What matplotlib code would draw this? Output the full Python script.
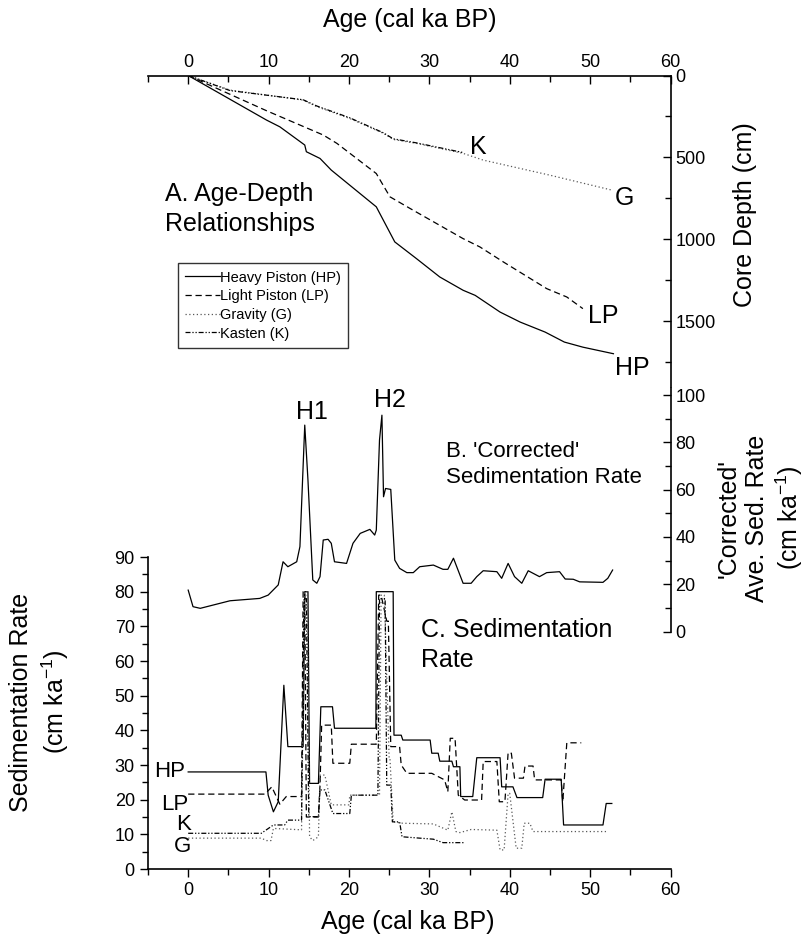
import matplotlib
matplotlib.use("Agg")
import matplotlib.pyplot as plt
from matplotlib.ticker import MultipleLocator

plt.rcParams['font.family'] = ['Liberation Sans', 'DejaVu Sans']
plt.rcParams['mathtext.fontset'] = 'custom'
plt.rcParams['mathtext.rm'] = 'Liberation Sans'
plt.rcParams['mathtext.it'] = 'Liberation Sans:italic'

# --- A. age-depth relationships (age in cal ka BP, depth in cm)
hp_age = [0, 9.75, 11.4, 14.5, 14.7, 16.4, 17.8, 23.4, 25.7, 28.4, 31.3, 34.2,
          35.7, 38.8, 41.3, 44.4, 46.8, 49.1, 52.9]
hp_depth = [0, 272, 313, 424, 465, 506, 577, 801, 1015, 1117, 1229, 1310,
            1341, 1443, 1504, 1565, 1626, 1657, 1697]
lp_age = [0, 9.75, 16.8, 18.5, 23.4, 24.25, 25.1, 27.6, 34.2, 36.3, 39.2,
          44.6, 47.1, 49.1]
lp_depth = [0, 215, 363, 414, 598, 669, 740, 811, 995, 1046, 1137, 1300,
            1351, 1422]
g_age = [0, 5.2, 14.3, 16.0, 20.1, 24.3, 25.5, 28.4, 34.2, 36.7, 45.0, 52.7]
g_depth = [0, 89, 150, 190, 262, 353, 390, 414, 475, 516, 608, 699]
k_age = [0, 5.2, 14.3, 16.0, 20.1, 24.3, 25.5, 28.4, 34.2]
k_depth = [0, 92, 148, 186, 258, 350, 386, 411, 470]

# --- B. 'corrected' average sedimentation rate (cm/ka)
cor_age = [0, 0.6, 1.5, 5.2, 8.9, 9.95, 11.2, 11.8, 12.4, 13.5, 13.9, 14.5,
           14.9, 15.5, 16.0, 16.4, 16.8, 17.4, 17.8, 18.2, 19.7, 20.5, 21.4,
           22.6, 23.2, 23.4, 23.8, 24.1, 24.3, 24.55, 25.2, 25.7, 26.3, 27.2,
           28.0, 28.8, 30.5, 31.7, 32.3, 33.0, 34.2, 35.2, 35.9, 36.7, 38.4,
           39.0, 39.8, 40.6, 41.5, 42.3, 43.7, 44.6, 46.2, 46.9, 47.9, 48.7,
           51.6, 52.2, 52.8]
cor_rate = [17.5, 10.5, 9.8, 13.0, 14.0, 15.4, 19.7, 29.5, 27.4, 29.5, 35.9,
            87.3, 64.0, 21.8, 20.4, 23.2, 38.7, 39.0, 37.3, 29.5, 28.8, 37.3,
            41.5, 43.2, 40.8, 42.9, 81.0, 91.5, 57.0, 60.5, 60.1, 30.2, 26.7,
            24.9, 24.9, 27.4, 28.1, 26.3, 26.3, 31.0, 20.4, 20.4, 23.2, 25.7,
            25.3, 22.5, 28.8, 23.2, 20.4, 25.7, 23.2, 24.9, 25.3, 22.2, 22.1,
            21.0, 20.8, 22.5, 26.0]

# --- C. sedimentation rate per core (cm/ka), clipped at 80
hp_sr_age = [0, 9.67, 9.95, 10.6, 11.2, 11.9, 12.4, 14.3, 14.5, 14.9, 15.1,
             16.2, 16.5, 17.95, 18.2, 23.35, 23.4, 25.5, 25.6, 26.5, 26.7,
             30.1, 30.3, 31.1, 31.3, 32.8, 33.0, 33.8, 33.9, 35.4, 35.9, 38.8,
             39.0, 40.4, 40.9, 44.1, 44.4, 46.4, 46.7, 51.6, 52.0, 52.7]
hp_sr = [28, 28, 21.3, 16.5, 19.4, 53, 35.3, 35.3, 80, 80, 24.7, 24.7, 46.8,
         46.8, 40.6, 40.6, 80, 80, 38.6, 38.6, 37.2, 37.2, 33.4, 33.4, 31.1,
         31.1, 29.5, 29.5, 20.9, 20.9, 32.1, 32.1, 23.7, 23.7, 20.6, 20.6,
         25.9, 25.9, 12.7, 12.7, 18.9, 18.9]
lp_sr_age = [0, 9.55, 10.4, 11.4, 12.2, 14.1, 14.3, 14.5, 14.7, 16.2, 16.4,
             16.6, 17.8, 18.0, 20.1, 20.3, 23.4, 23.7, 24.0, 24.7, 24.9, 25.2,
             26.3, 26.5, 27.2, 30.3, 31.9, 32.3, 32.6, 33.2, 33.6, 34.4, 36.5,
             36.7, 38.4, 38.7, 39.4, 39.8, 40.2, 40.6, 41.7, 41.9, 42.9, 43.1,
             46.4, 46.6, 47.1, 48.9]
lp_sr = [21.6, 21.6, 23.7, 18.7, 20.9, 20.9, 80, 80, 15, 15, 24.2, 41.5, 41.5,
         30.5, 30.5, 36, 36, 79, 79, 71.5, 71.5, 35.3, 35.3, 30, 27.6, 27.6,
         25.7, 22.3, 37.7, 37.7, 21.3, 19.9, 19.9, 31, 31, 19.4, 19.4, 33.6,
         33.4, 26.2, 26.2, 29.7, 29.7, 25.7, 25.7, 19.4, 36.4, 36.4]
k_sr_age = [0, 9.1, 10.6, 12.0, 12.4, 14.1, 14.4, 14.7, 15.0, 16.2, 16.4,
            17.0, 18.0, 20.1, 20.3, 23.6, 23.8, 24.5, 24.7, 25.2, 25.4, 26.3,
            26.6, 28.8, 30.5, 31.7, 34.4]
k_sr = [10.3, 10.3, 12.7, 12.7, 14.1, 14.1, 78, 78, 15.1, 15.1, 22.8, 22.8,
        16, 16, 21.3, 21.3, 78, 78, 24.2, 24.2, 13.6, 13.6, 9.3, 8.9, 8.6,
        7.6, 7.6]
g_sr_age = [0, 9.1, 9.75, 10.3, 10.6, 14.1, 14.5, 14.8, 15.1, 15.5, 16.2,
            16.4, 17.0, 17.8, 20.0, 20.1, 23.8, 24.0, 24.4, 25.0, 25.1, 25.5,
            26.7, 30.5, 32.3, 32.8, 33.3, 33.8, 35.2, 38.4, 38.8, 39.3, 39.8,
            40.0, 40.8, 41.5, 41.8, 42.5, 42.9, 52.0]
g_sr = [8.9, 8.9, 8.2, 8.2, 11.7, 11.3, 80, 80, 9.3, 8.2, 9.3, 27.1, 27.1,
        18.5, 18.5, 21.3, 21.3, 79, 79, 31.9, 31.9, 13.6, 13.2, 13.0, 11.2,
        16.5, 10.8, 10.5, 11.4, 11.2, 5.5, 5.5, 21.8, 21.8, 6.0, 6.0, 13.2,
        13.2, 10.8, 10.8]

W, H = 811, 939
fig = plt.figure(figsize=(W / 100, H / 100), dpi=100)


def px(x0, y0, x1, y1):
    # axes rectangle from pixel corners (top-left origin)
    return [x0 / W, 1 - y1 / H, (x1 - x0) / W, (y1 - y0) / H]


ls_hp = dict(color='black', lw=0.9, ls='-')
ls_lp = dict(color='black', lw=0.9, ls=(0, (5, 3)))
ls_g = dict(color='0.35', lw=0.9, ls=(0, (1, 2)))
ls_k = dict(color='black', lw=0.9, ls=(0, (4, 1.5, 1, 1.5, 1, 1.5)))

TICK = 13
LAB = 18


def tick_setup(a, direction):
    a.tick_params(which='both', direction=direction, labelsize=TICK, width=1)
    a.tick_params(which='major', length=6)
    a.tick_params(which='minor', length=4)


# ---------- A. age-depth
ax_a = fig.add_axes(px(148, 75.5, 670.5, 387))
ax_a.patch.set_alpha(0)
ax_a.plot(hp_age, hp_depth, label='Heavy Piston (HP)', **ls_hp)
ax_a.plot(lp_age, lp_depth, label='Light Piston (LP)', **ls_lp)
ax_a.plot(g_age, g_depth, label='Gravity (G)', **ls_g)
ax_a.plot(k_age, k_depth, label='Kasten (K)', **ls_k)
ax_a.set_xlim(-5, 60)
ax_a.set_ylim(1900, 0)
for s in ('left', 'bottom'):
    ax_a.spines[s].set_visible(False)
ax_a.xaxis.tick_top()
ax_a.yaxis.tick_right()
ax_a.xaxis.set_major_locator(MultipleLocator(10))
ax_a.xaxis.set_minor_locator(MultipleLocator(5))
ax_a.yaxis.set_major_locator(MultipleLocator(500))
ax_a.yaxis.set_minor_locator(MultipleLocator(250))
tick_setup(ax_a, 'in')
ax_a.set_xticks([0, 10, 20, 30, 40, 50, 60])
ax_a.text(-2.9, 816, 'A. Age-Depth\nRelationships', fontsize=18,
          ha='left', va='center', linespacing=1.3)
ax_a.text(36.1, 435, 'K', fontsize=18, ha='center', va='center')
ax_a.text(54.3, 748, 'G', fontsize=18, ha='center', va='center')
ax_a.text(51.6, 1469, 'LP', fontsize=18, ha='center', va='center')
ax_a.text(55.3, 1787, 'HP', fontsize=18, ha='center', va='center')
leg = ax_a.legend(loc='upper left', bbox_to_anchor=(177.7 / W, 1 - 263.3 / H),
                  bbox_transform=fig.transFigure, fontsize=10.5,
                  frameon=True, fancybox=False, handlelength=2.4,
                  handletextpad=0.0, labelspacing=0.32, borderpad=0.5,
                  borderaxespad=0)
leg.get_frame().set_edgecolor('black')
leg.get_frame().set_linewidth(1.0)

# ---------- B. corrected rate
ax_b = fig.add_axes(px(148, 388, 670.5, 631.5))
ax_b.patch.set_alpha(0)
ax_b.plot(cor_age, cor_rate, color='black', lw=0.9)
ax_b.set_xlim(-5, 60)
ax_b.set_ylim(0, 103)
for s in ('left', 'bottom', 'top'):
    ax_b.spines[s].set_visible(False)
ax_b.xaxis.set_visible(False)
ax_b.yaxis.tick_right()
ax_b.yaxis.set_major_locator(MultipleLocator(20))
ax_b.yaxis.set_minor_locator(MultipleLocator(10))
tick_setup(ax_b, 'in')
ax_b.text(15.35, 93, 'H1', fontsize=18, ha='center', va='center')
ax_b.text(25.1, 97.9, 'H2', fontsize=18, ha='center', va='center')
ax_b.text(32.1, 70.8, "B. 'Corrected'\nSedimentation Rate", fontsize=16,
          ha='left', va='center', linespacing=1.3)

# ---------- C. sedimentation rate
ax_c = fig.add_axes(px(148, 557, 670.5, 869))
ax_c.patch.set_alpha(0)
ax_c.plot(hp_sr_age, hp_sr, **ls_hp)
ax_c.plot(lp_sr_age, lp_sr, **ls_lp)
ax_c.plot(g_sr_age, g_sr, **ls_g)
ax_c.plot(k_sr_age, k_sr, **ls_k)
ax_c.set_xlim(-5, 60)
ax_c.set_ylim(0, 90)
for s in ('right', 'top'):
    ax_c.spines[s].set_visible(False)
ax_c.xaxis.set_major_locator(MultipleLocator(10))
ax_c.xaxis.set_minor_locator(MultipleLocator(5))
ax_c.yaxis.set_major_locator(MultipleLocator(10))
ax_c.yaxis.set_minor_locator(MultipleLocator(5))
tick_setup(ax_c, 'out')
ax_c.text(29.0, 64.6, 'C. Sedimentation\nRate', fontsize=18,
          ha='left', va='center', linespacing=1.35)
ax_c.text(-0.4, 28, 'HP', fontsize=16, ha='right', va='center')
ax_c.text(0.0, 18.7, 'LP', fontsize=16, ha='right', va='center')
ax_c.text(0.4, 12.7, 'K', fontsize=16, ha='right', va='center')
ax_c.text(0.4, 6.4, 'G', fontsize=16, ha='right', va='center')

for a in (ax_a, ax_b, ax_c):
    for s in a.spines.values():
        s.set_linewidth(1.2)

# axis titles
fig.text(410 / W, 1 - 20 / H, 'Age (cal ka BP)', fontsize=LAB,
         ha='center', va='center')
fig.text(408 / W, 1 - 922 / H, 'Age (cal ka BP)', fontsize=LAB,
         ha='center', va='center')
fig.text(745 / W, 1 - 215 / H, 'Core Depth (cm)', fontsize=LAB,
         ha='center', va='center', rotation=90)
fig.text(761 / W, 1 - 518 / H, "'Corrected'\nAve. Sed. Rate\n(cm ka$^{-1}$)",
         fontsize=LAB, ha='center', va='center', rotation=90,
         linespacing=1.2)
fig.text(40 / W, 1 - 702 / H, 'Sedimentation Rate\n(cm ka$^{-1}$)',
         fontsize=LAB, ha='center', va='center', rotation=90,
         linespacing=1.3)

fig.savefig('out.png', dpi=100)
